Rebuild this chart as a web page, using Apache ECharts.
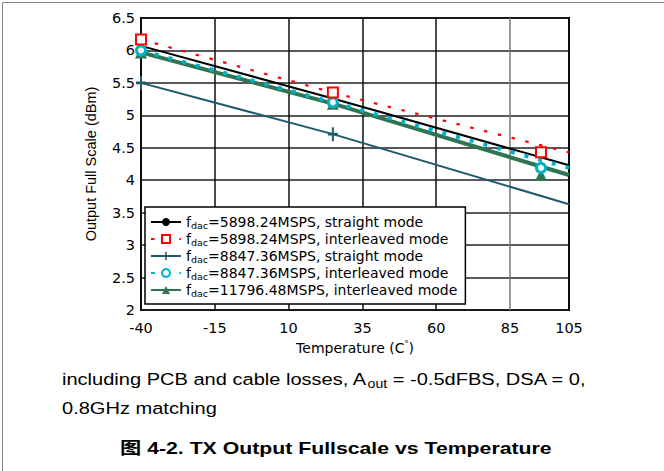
<!DOCTYPE html>
<html>
<head>
<meta charset="utf-8">
<script src="https://cdn.jsdelivr.net/npm/echarts@6/dist/echarts.min.js"></script>
<style>
html,body{margin:0;padding:0;background:#fff;}
#chart{width:664px;height:471px;}
</style>
</head>
<body>
<div id="chart"></div>
<script>
// ---- data ----
var temps = [-40, 25, 105];
var s5898Straight    = [6.07, 5.26, 4.23];
var s5898Interleaved = [6.17, 5.35, 4.43];
var s8847Straight    = [5.50, 4.71, 3.63];
var s8847Interleaved = [6.00, 5.20, 4.19];
var s11796Interleaved= [5.97, 5.18, 4.08];
var legendFreqs = ['5898.24MSPS', '5898.24MSPS', '8847.36MSPS', '8847.36MSPS', '11796.48MSPS'];
var legendModes = ['straight mode', 'interleaved mode', 'straight mode', 'interleaved mode', 'interleaved mode'];
var xTicks = [-40, -15, 10, 35, 60, 85, 105];
var yTicks = [2, 2.5, 3, 3.5, 4, 4.5, 5, 5.5, 6, 6.5];

var ARIAL = '"Liberation Sans", Arial, sans-serif';
var WIDE = '"DejaVu Sans", sans-serif';
var names = legendFreqs.map(function (f, i) { return 'fdac=' + f + ', ' + legendModes[i]; });

// the source plot draws the last marker of each curve a little left of the axis end
function pairs(vals, lastMarker) {
  return temps.map(function (t, i) {
    var item = { value: [t, vals[i]] };
    if (i === temps.length - 1) {
      if (lastMarker) item.symbolOffset = [-28, 0]; else item.symbol = 'none';
    }
    return item;
  });
}

var chart = echarts.init(document.getElementById('chart'), null, { renderer: 'svg' });
var option = {
  backgroundColor: '#fff',
  animation: false,
  grid: { left: 141, top: 18, right: 95, bottom: 161, show: true, borderColor: '#000', borderWidth: 2, backgroundColor: 'transparent' },
  xAxis: {
    type: 'value', min: -40, max: 105, interval: 25,
    name: 'Temperature (C{sup|°})', nameLocation: 'middle', nameGap: 30,
    nameTextStyle: { fontFamily: WIDE, fontSize: 14, color: '#000',
      rich: { sup: { fontSize: 8, verticalAlign: 'top', padding: [0, 0, 8, 0], fontFamily: WIDE, color: '#000' } } },
    axisLine: { show: false }, axisTick: { show: false },
    axisLabel: { fontFamily: WIDE, fontSize: 14.5, color: '#000', margin: 10 },
    splitLine: { show: true, lineStyle: { color: ['#111', '#111', '#111', '#111', '#111', '#777', '#111'], width: 1.5 } }
  },
  yAxis: {
    type: 'value', min: 2, max: 6.5, interval: 0.5,
    name: 'Output Full Scale (dBm)', nameLocation: 'middle', nameGap: 43,
    nameTextStyle: { fontFamily: ARIAL, fontSize: 14.5, color: '#000' },
    axisLine: { show: false }, axisTick: { show: false },
    axisLabel: { fontFamily: WIDE, fontSize: 14.5, color: '#000', margin: 6 },
    splitLine: { show: true, lineStyle: { color: '#222', width: 1.5 } }
  },
  legend: {
    left: 145, top: 207, orient: 'vertical',
    backgroundColor: '#fff', borderColor: '#000', borderWidth: 1.5, borderRadius: 0,
    padding: [7, 8, 6, 5], itemGap: 1, itemWidth: 30, itemHeight: 10,
    data: names,
    formatter: function (n) {
      var i = names.indexOf(n);
      return '{n|f}{s|dac}{n|=' + legendFreqs[i] + ', ' + legendModes[i] + '}';
    },
    textStyle: { fontFamily: WIDE, fontSize: 14, color: '#000', lineHeight: 16,
      rich: { n: { fontFamily: WIDE, fontSize: 14, color: '#000', lineHeight: 16 },
              s: { fontFamily: WIDE, fontSize: 9.5, color: '#000', lineHeight: 16, verticalAlign: 'bottom', padding: [5, 0, 0, 0] } } }
  },
  series: [
    { name: names[4], type: 'line', z: 2, data: pairs(s11796Interleaved, true),
      symbol: 'triangle', symbolSize: 12, color: '#2e7553',
      lineStyle: { color: '#2e7553', width: 4 }, itemStyle: { color: '#2e7553' } },
    { name: names[2], type: 'line', z: 3, data: pairs(s8847Straight, false),
      symbol: 'path://M4,0h2v4h4v2h-4v4h-2v-4h-4v-2h4z', symbolSize: [10, 14], color: '#1c5a6e',
      lineStyle: { color: '#1c5a6e', width: 2 }, itemStyle: { color: '#1c5a6e' } },
    { name: names[0], type: 'line', z: 4, data: pairs(s5898Straight, false),
      symbol: 'circle', symbolSize: 6, showSymbol: false, color: '#000',
      lineStyle: { color: '#000', width: 2 }, itemStyle: { color: '#000' } },
    { name: names[3], type: 'line', z: 5, data: pairs(s8847Interleaved, true),
      symbol: 'circle', symbolSize: 9, color: '#00b2c8',
      lineStyle: { color: '#00b2c8', width: 4, type: [4, 10.2] },
      itemStyle: { color: '#ffffff', borderColor: '#00b2c8', borderWidth: 3 } },
    { name: names[1], type: 'line', z: 6, data: pairs(s5898Interleaved, true),
      symbol: 'rect', symbolSize: 10, color: '#ff0000',
      lineStyle: { color: '#ff0000', width: 2.2, type: [3.5, 10.7] },
      itemStyle: { color: '#ffffff', borderColor: '#ff0000', borderWidth: 2 } }
  ],
  graphic: [
    { type: 'rect', left: 0, top: 0, shape: { x: 0.5, y: 1.5, width: 662, height: 470 },
      style: { fill: 'none', stroke: '#888', lineWidth: 1 }, silent: true },
    { type: 'text', x: 62, y: 369, scaleX: 1.18, style: {
        text: '{a|including PCB and cable losses, A}{b|out}{a| = -0.5dFBS, DSA = 0,}',
        rich: { a: { fontFamily: ARIAL, fontSize: 17, fill: '#000' },
                b: { fontFamily: ARIAL, fontSize: 12, fill: '#000', verticalAlign: 'bottom', padding: [9, 0, 0, 0] } } } },
    { type: 'text', x: 62, y: 400, scaleX: 1.18, style: { text: '0.8GHz matching', font: '17px "Liberation Sans", Arial, sans-serif', fill: '#000' } },
    { type: 'text', x: 120, y: 440, scaleX: 1.25, style: { text: '图 4-2. TX Output Fullscale vs Temperature',
        font: 'bold 17px "Liberation Sans", Arial, "Noto Sans CJK SC", sans-serif', fill: '#000' } }
  ]
};
chart.setOption(option);
</script>
</body>
</html>
